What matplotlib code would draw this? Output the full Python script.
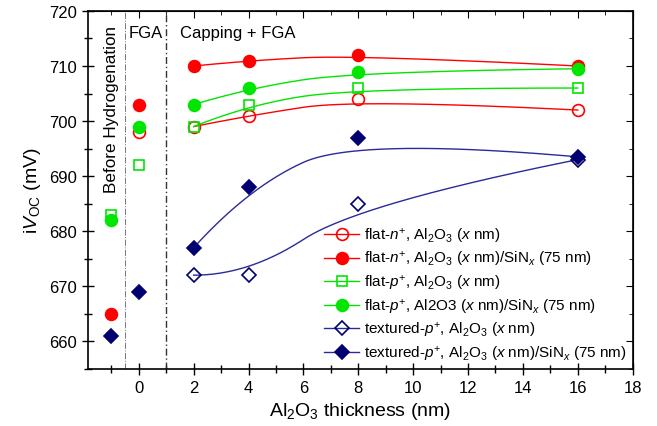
import matplotlib.pyplot as plt
import numpy as np

plt.rcParams['font.family'] = ['Liberation Sans', 'DejaVu Sans']
plt.rcParams['mathtext.fontset'] = 'custom'
plt.rcParams['mathtext.rm'] = 'Liberation Sans'
plt.rcParams['mathtext.it'] = 'Liberation Sans:italic'

# thickness values (-1 = before hydrogenation, 0 = FGA only)
x_all = [-1, 0, 2, 4, 8, 16]
x_cap = [2, 4, 8, 16]

n_al = [698, 699, 701, 704, 702]            # x = 0, 2, 4, 8, 16
n_sin = [665, 703, 710, 711, 712, 710]
p_al = [683, 692, 699, 703, 706, 706]
p_sin = [682, 699, 703, 706, 709, 709.5]
tex_al = [672, 672, 685, 693]               # x = 2, 4, 8, 16
tex_sin = [661, 669, 677, 688, 697, 693.5]

labels = [
    r'flat-$n^{+}$, Al$_2$O$_3$ ($\mathit{x}$ nm)',
    r'flat-$n^{+}$, Al$_2$O$_3$ ($\mathit{x}$ nm)/SiN$_\mathit{x}$ (75 nm)',
    r'flat-$p^{+}$, Al$_2$O$_3$ ($\mathit{x}$ nm)',
    r'flat-$p^{+}$, Al2O3 ($\mathit{x}$ nm)/SiN$_\mathit{x}$ (75 nm)',
    r'textured-$p^{+}$, Al$_2$O$_3$ ($\mathit{x}$ nm)',
    r'textured-$p^{+}$, Al$_2$O$_3$ ($\mathit{x}$ nm)/SiN$_\mathit{x}$ (75 nm)',
]

red = '#ff0000'
green = '#00e600'
navy = '#000070'
blue_line = '#2a2a9a'

series = [
    ([0, 2, 4, 8, 16], n_al, 'o', 'none', red, red),
    (x_all, n_sin, 'o', red, red, red),
    (x_all, p_al, 's', 'none', green, green),
    (x_all, p_sin, 'o', green, green, green),
    (x_cap, tex_al, 'D', 'none', navy, blue_line),
    (x_all, tex_sin, 'D', navy, navy, blue_line),
]


def bspline2(px, py, n=100):
    # clamped quadratic B-spline with the data points as control points
    px = np.asarray(px, float)
    py = np.asarray(py, float)
    mx = (px[1:] + px[:-1]) / 2
    my = (py[1:] + py[:-1]) / 2
    starts = [(px[0], py[0])] + list(zip(mx[1:-1], my[1:-1]))
    ends = list(zip(mx[1:-1], my[1:-1])) + [(px[-1], py[-1])]
    t = np.linspace(0, 1, n)
    ox, oy = [], []
    for i, (s, e) in enumerate(zip(starts, ends)):
        c = (px[i + 1], py[i + 1])
        ox.append((1 - t)**2 * s[0] + 2 * t * (1 - t) * c[0] + t**2 * e[0])
        oy.append((1 - t)**2 * s[1] + 2 * t * (1 - t) * c[1] + t**2 * e[1])
    return np.concatenate(ox), np.concatenate(oy)


fig = plt.figure(figsize=(6.57, 4.27), dpi=100)
ax = fig.add_axes([0.134, 0.134, 0.829, 0.838])

handles = []
for (x, y, m, fc, ec, lc), lab in zip(series, labels):
    x = np.array(x)
    y = np.array(y)
    ms = {'o': 8.5, 's': 7, 'D': 7.5}[m]
    ax.plot(x, y, m, mfc=fc, mec=ec, ms=ms, mew=1.2, zorder=3)
    sel = x >= 2
    cx, cy = bspline2(x[sel], y[sel])
    ax.plot(cx, cy, color=lc, lw=1, zorder=2)
    h, = ax.plot([], [], '-', marker=m, mfc=fc, mec=ec, color=lc, ms=ms, mew=1.2, lw=1)
    handles.append(h)

ax.axvline(-0.5, color='#777777', lw=0.7, ls='-.')
ax.axvline(1, color='#333333', lw=1, ls=(0, (5, 2, 1, 2)))

ax.text(-1, 717.5, 'Before Hydrogenation', rotation=90, ha='center', va='top', fontsize=12.3)
ax.text(0.25, 717.5, 'FGA', ha='center', va='top', fontsize=12)
ax.text(1.5, 717.5, 'Capping + FGA', ha='left', va='top', fontsize=12)

ax.set_xlim(-1.85, 18)
ax.set_ylim(655, 720)
ax.set_xticks(range(0, 19, 2))
ax.set_xticks(range(-1, 18, 2), minor=True)
ax.set_yticks(range(660, 721, 10))
ax.set_yticks(range(655, 720, 10), minor=True)
ax.tick_params(which='both', labelsize=12, width=1)
ax.tick_params(which='major', direction='inout', length=9)
ax.tick_params(which='minor', direction='inout', length=6)
for s in ax.spines.values():
    s.set_linewidth(1.2)

ax2 = ax.secondary_xaxis('top')
ax2.set_xticks(range(0, 19, 2))
ax2.set_xticks(range(-1, 18, 2), minor=True)
ax2.tick_params(which='major', direction='in', length=5, labeltop=False)
ax2.tick_params(which='minor', direction='in', length=3)
ax3 = ax.secondary_yaxis('right')
ax3.set_yticks(range(660, 721, 10))
ax3.set_yticks(range(655, 720, 10), minor=True)
ax3.tick_params(which='major', direction='in', length=5, labelright=False)
ax3.tick_params(which='minor', direction='in', length=3)

ax.set_xlabel(r'Al$_2$O$_3$ thickness (nm)', fontsize=14)
ax.set_ylabel(r'i$V_{\mathrm{OC}}$ (mV)', fontsize=14)

ax.legend(handles, labels, loc='lower right', frameon=False, fontsize=11,
          handlelength=2.3, labelspacing=0.3, borderaxespad=0.0, handletextpad=0.3)

fig.savefig('out.png', dpi=100)
